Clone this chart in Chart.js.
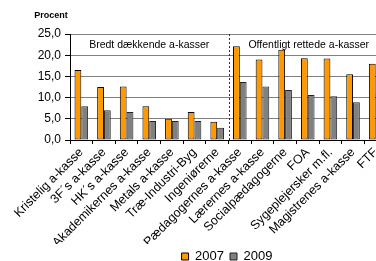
<!DOCTYPE html>
<html>
<head>
<meta charset="utf-8">
<script src="https://cdn.jsdelivr.net/npm/chart.js@4.4.1/dist/chart.umd.min.js"></script>
<style>
html, body { margin: 0; padding: 0; background: #fff; overflow: hidden; }
#wrap { width: 376px; height: 261px; overflow: hidden; position: relative; }
#myChart { position: absolute; left: 0; top: 0; }
</style>
</head>
<body>
<div id="wrap"><canvas id="myChart" width="454" height="273"></canvas></div>
<script>
// data
const categories = ['Kristelig a-kasse', '3F´s a-kasse', 'HK´s a-kasse', 'Akademikernes a-kasse',
    'Metals a-kasse', 'Træ-Industri-Byg', 'Ingeniørerne', 'Pædagogernes a-kasse',
    'Lærernes a-kasse', 'Socialpædagogerne', 'FOA', 'Sygeplejersker m.fl.',
    'Magistrenes a-kasse', 'FTF'];
const values2007 = [16.5, 12.5, 12.6, 8.0, 5.0, 6.6, 4.3, 22.1, 19.0, 21.3, 19.3, 19.2, 15.5, 18.0];
const values2009 = [8.0, 7.0, 6.6, 4.5, 4.5, 4.5, 2.9, 13.7, 12.6, 11.8, 10.6, 10.3, 8.9, 10.9];
const groupNames = ['Bredt dækkende a-kasser', 'Offentligt rettede a-kasser'];
const groupSplit = 7; // first category of the second group
const yTicks = [0, 5, 10, 15, 20, 25];

const font = "Arial, 'Liberation Sans', sans-serif";

// text, dotted divider and group labels
const extras = {
    id: 'extras',
    afterDraw(chart) {
        const ctx = chart.ctx;
        const x = chart.scales.x, y = chart.scales.y;
        const area = chart.chartArea;
        const splitX = (x.getPixelForValue(groupSplit - 1) + x.getPixelForValue(groupSplit)) / 2;
        ctx.save();
        // dotted line between the groups
        ctx.strokeStyle = '#333';
        ctx.lineWidth = 1;
        ctx.setLineDash([2, 2]);
        ctx.beginPath();
        ctx.moveTo(Math.round(splitX) + 0.5, area.top);
        ctx.lineTo(Math.round(splitX) + 0.5, area.bottom);
        ctx.stroke();
        ctx.setLineDash([]);
        // group labels
        ctx.fillStyle = '#000';
        ctx.font = '10.5px ' + font;
        ctx.textAlign = 'center';
        ctx.textBaseline = 'middle';
        const ty = y.getPixelForValue(22.4);
        const c1 = (x.getPixelForValue(0) + x.getPixelForValue(groupSplit - 1)) / 2;
        const c2 = (x.getPixelForValue(groupSplit) + x.getPixelForValue(categories.length - 1)) / 2;
        ctx.fillText(groupNames[0], c1, ty);
        ctx.fillText(groupNames[1], c2 + 1, ty);
        // unit label
        ctx.font = 'bold 9px ' + font;
        ctx.fillText('Procent', area.left - 19, area.top - 18);
        ctx.restore();
    }
};

const myChart = new Chart(document.getElementById('myChart'), {
    type: 'bar',
    data: {
        labels: categories,
        datasets: [{
            label: '2007',
            data: values2007,
            backgroundColor: '#FF9900',
            borderColor: '#000',
            borderWidth: 1,
            borderSkipped: false,
            categoryPercentage: 0.6,
            barPercentage: 1.0
        }, {
            label: '2009',
            data: values2009,
            backgroundColor: '#808080',
            borderColor: '#222',
            borderWidth: 1,
            borderSkipped: false,
            categoryPercentage: 0.6,
            barPercentage: 1.0
        }]
    },
    options: {
        responsive: false,
        animation: false,
        layout: { padding: { top: 34, left: 0, right: 0, bottom: 0 } },
        plugins: {
            tooltip: { enabled: false },
            legend: {
                position: 'bottom',
                labels: {
                    boxWidth: 7, boxHeight: 7, padding: 6,
                    color: '#000',
                    font: { family: font, size: 13 }
                }
            }
        },
        scales: {
            x: {
                afterFit(scale) { scale.height = scale.height - 7; },
                grid: { drawOnChartArea: false, drawTicks: true, tickLength: 4, tickColor: '#000' },
                border: { color: '#000' },
                ticks: {
                    color: '#000', minRotation: 45, maxRotation: 45, padding: 1,
                    autoSkip: false,
                    font: { family: font, size: 12.5 }
                }
            },
            y: {
                min: 0, max: 25,
                afterFit(scale) { scale.width = 70; },
                afterBuildTicks(scale) { scale.ticks = yTicks.map(v => ({ value: v })); },
                grid: { color: '#808080', tickLength: 5, tickColor: '#000' },
                border: { color: '#000' },
                ticks: {
                    color: '#000', padding: 4,
                    font: { family: font, size: 12 },
                    callback: v => v.toFixed(1).replace('.', ',')
                }
            },
            // empty axis on the right, keeps the plot narrower than the canvas
            yRight: {
                position: 'right',
                afterFit(scale) { scale.width = 67; },
                grid: { display: false },
                border: { display: false },
                ticks: { display: false }
            }
        }
    },
    plugins: [extras]
});
</script>
</body>
</html>
